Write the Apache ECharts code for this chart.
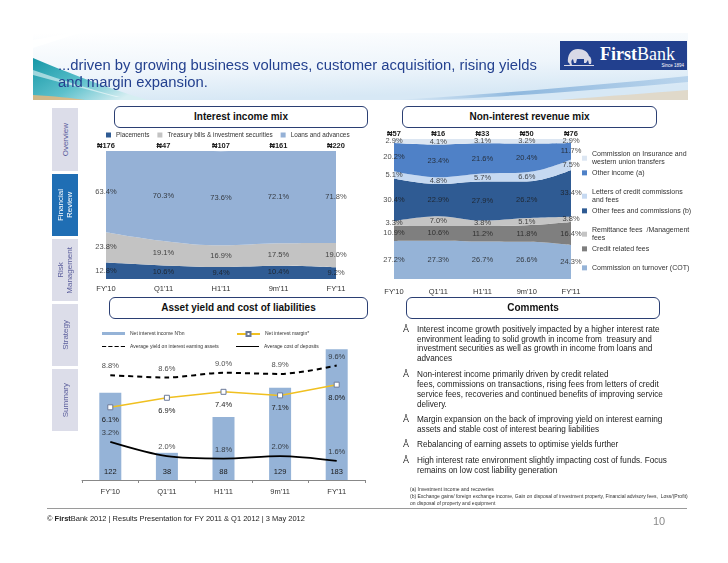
<!DOCTYPE html>
<html><head><meta charset="utf-8">
<script src="https://cdn.jsdelivr.net/npm/echarts@6/dist/echarts.min.js"></script>
<style>
html,body{margin:0;padding:0;background:#fff;}
#page{position:relative;width:728px;height:563px;overflow:hidden;font-family:'Liberation Sans',Arial,sans-serif;background:#fff;}
#chart{position:absolute;left:0;top:0;width:728px;height:563px;z-index:1;}
.ov{position:absolute;z-index:2;white-space:nowrap;}
.ln{position:absolute;z-index:2;white-space:nowrap;display:inline-block;transform-origin:0 50%;}
.tbox{position:absolute;z-index:2;border:1px solid #2b3f73;border-radius:6px;background:#fff;box-sizing:border-box;text-align:center;font-weight:bold;font-size:10px;color:#111;}
.tab{position:absolute;left:52px;width:26px;background:#dcdde9;color:#5b5e9c;font-size:8px;display:flex;align-items:center;justify-content:center;z-index:2;}
.tab span{writing-mode:vertical-rl;transform:rotate(180deg);text-align:center;line-height:9px;}
.cm{font-size:9px;color:#222;line-height:10px;}
.bul{position:absolute;z-index:2;left:403px;font-size:9px;color:#222;line-height:10px;}
.fn{font-size:4.8px;color:#333;line-height:7px;}
</style></head>
<body>
<div id="page">
<svg width="728" height="110" style="position:absolute;left:0;top:0;z-index:0">
  <defs>
    <linearGradient id="bgv" x1="0" y1="0" x2="0.3" y2="1">
      <stop offset="0" stop-color="#ffffff"/>
      <stop offset="0.6" stop-color="#eef5fb"/>
      <stop offset="1" stop-color="#d7e8f5"/>
    </linearGradient>
    <linearGradient id="teal" x1="0" y1="0" x2="1" y2="0.6">
      <stop offset="0" stop-color="#1597a6"/>
      <stop offset="0.55" stop-color="#5cc0cb"/>
      <stop offset="1" stop-color="#d6eef2"/>
    </linearGradient>
    <linearGradient id="streak" x1="0" y1="0" x2="1" y2="0">
      <stop offset="0" stop-color="#a9c9e6" stop-opacity="0"/>
      <stop offset="0.4" stop-color="#8fb8de"/>
      <stop offset="1" stop-color="#b9d4ec"/>
    </linearGradient>
  </defs>
  <rect x="33" y="33" width="655" height="67" fill="url(#bgv)"/>
  <path d="M33,40 L70,33 L80,33 L33,48 Z" fill="#ffffff" opacity="0.8"/>
  <path d="M33,58 C62,70 100,86 148,100 L33,100 Z" fill="url(#teal)"/>
  <path d="M33,70 C62,80 92,90 120,97 L116,97 C88,90 60,82 33,75 Z" fill="#ffffff" opacity="0.55"/>
  <path d="M33,95 C55,96 70,98 85,100 L33,100 Z" fill="#e6b77c" opacity="0.85"/>
  <path d="M395,100 C480,95 590,86 688,76 L688,82 C600,90 500,97 430,100 Z" fill="url(#streak)"/>
  <path d="M560,100 C610,96 650,93 688,90 L688,100 Z" fill="#e9c9a0" opacity="0.5"/>
</svg>

<div style="position:absolute;left:560px;top:41px;width:127px;height:29px;background:#22408e;z-index:2;">
  <svg width="34" height="29" style="position:absolute;left:2px;top:0">
    <path d="M6,22 C5,14 9,8 16,8 C22,8 26,11 27,15 C29,16 30,19 29,23 L27,23 L26,19 L24,22 L22,22 L22,18 L15,18 L14,22 L12,22 L11,18 C9,19 9,21 10,24 L8,24 C7,22 7,21 6,22 Z" fill="#d9d9e6"/>
    <rect x="2" y="24" width="30" height="1" fill="#d9d9e6"/>
  </svg>
  <div style="position:absolute;left:40px;top:4px;font-family:'Liberation Serif','Times New Roman',serif;font-size:18px;color:#fff;line-height:18px;white-space:nowrap;"><b>First</b>Bank</div>
  <div style="position:absolute;right:3px;top:22px;font-size:4.5px;color:#fff;white-space:nowrap;">Since 1894</div>
</div>

<span class="ln" data-w="479" style="left:58px;top:57px;font-size:14px;line-height:16px;color:#24418f;">...driven by growing business volumes, customer acquisition, rising yields</span>
<span class="ln" data-s="hdr" style="left:58px;top:74px;font-size:14px;line-height:16px;color:#24418f;">and margin expansion.</span>

<div class="tab" style="top:108px;height:63px;"><span>Overview</span></div>
<div class="tab" style="top:174px;height:62px;background:#1f6eb4;color:#fff;"><span>Financial<br>Review</span></div>
<div class="tab" style="top:239px;height:62px;"><span>Risk<br>Management</span></div>
<div class="tab" style="top:304px;height:62px;"><span>Strategy</span></div>
<div class="tab" style="top:369px;height:62px;"><span>Summary</span></div>

<div class="tbox" style="left:114px;top:106px;width:254px;height:22px;line-height:20px;">Interest income mix</div>
<div class="tbox" style="left:402px;top:106px;width:255px;height:22px;line-height:20px;">Non-interest revenue mix</div>
<div class="tbox" style="left:109px;top:297px;width:259px;height:22px;line-height:20px;">Asset yield and cost of liabilities</div>
<div class="tbox" style="left:406px;top:297px;width:254px;height:22px;line-height:20px;">Comments</div>

<div id="chart"></div>

<div class="bul" style="top:324px;">Å</div>
<span class="ln cm" data-w="243" style="left:417px;top:324px;">Interest income growth positively impacted by a higher interest rate</span>
<span class="ln cm" data-s="cm" style="left:417px;top:334px;">environment leading to solid growth in income from&nbsp; treasury and</span>
<span class="ln cm" data-s="cm" style="left:417px;top:343px;">investment securities as well as growth in income from loans and</span>
<span class="ln cm" data-s="cm" style="left:417px;top:353px;">advances</span>
<div class="bul" style="top:369px;">Å</div>
<span class="ln cm" data-s="cm" style="left:417px;top:369px;">Non-interest income primarily driven by credit related</span>
<span class="ln cm" data-s="cm" style="left:417px;top:379px;">fees, commissions on transactions, rising fees from letters of credit</span>
<span class="ln cm" data-s="cm" style="left:417px;top:389px;">service fees, recoveries and continued benefits of improving service</span>
<span class="ln cm" data-s="cm" style="left:417px;top:399px;">delivery.</span>
<div class="bul" style="top:414px;">Å</div>
<span class="ln cm" data-s="cm" style="left:417px;top:414px;">Margin expansion on the back of improving yield on interest earning</span>
<span class="ln cm" data-s="cm" style="left:417px;top:424px;">assets and stable cost of interest bearing liabilities</span>
<div class="bul" style="top:439px;">Å</div>
<span class="ln cm" data-s="cm" style="left:417px;top:439px;">Rebalancing of earning assets to optimise yields further</span>
<div class="bul" style="top:455px;">Å</div>
<span class="ln cm" data-s="cm" style="left:417px;top:455px;">High interest rate environment slightly impacting cost of funds. Focus</span>
<span class="ln cm" data-s="cm" style="left:417px;top:465px;">remains on low cost liability generation</span>

<span class="ln fn" data-s="fn" style="left:410px;top:486px;">(a) Investment income and recoveries</span>
<span class="ln fn" data-w="278" style="left:410px;top:493px;">(b) Exchange gains/ foreign exchange income, Gain on disposal of investment property, Financial advisory fees,&nbsp; Loss/(Profit)</span>
<span class="ln fn" data-s="fn" style="left:410px;top:500px;">on disposal of property and equipment</span>

<div style="position:absolute;left:47px;top:508px;width:640px;height:1px;background:#9a9a9a;z-index:2;"></div>
<span class="ln" data-w="258" style="left:47px;top:514px;font-size:7.5px;line-height:9px;color:#222;">© <b>First</b>Bank 2012 | Results Presentation for FY 2011 &amp; Q1 2012 | 3 May 2012</span>
<span class="ov" style="left:653px;top:514px;font-size:11px;line-height:14px;color:#8a8a8a;">10</span>
</div>

<script>
// ---------- data ----------
const cats1 = ["FY'10", "Q1'11", "H1'11", "9m'11", "FY'11"];
const totals1 = ["₦176", "₦47", "₦107", "₦161", "₦220"];
const placements = [12.8, 10.6, 9.4, 10.4, 9.2];
const treasury = [23.8, 19.1, 16.9, 17.5, 19.0];
const loans = [63.4, 70.3, 73.6, 72.1, 71.8];

const cats2 = ["FY'10", "Q1'11", "H1'11", "9m'10", "FY'11"];
const totals2 = ["₦57", "₦16", "₦33", "₦50", "₦76"];
const cot = [27.2, 27.3, 26.7, 26.6, 24.3];
const creditFees = [10.9, 10.6, 11.2, 11.8, 16.4];
const remittance = [3.3, 7.0, 3.8, 5.1, 3.8];
const otherFees = [30.4, 22.9, 27.9, 26.2, 33.4];
const lettersCredit = [5.1, 4.8, 5.7, 6.6, 7.5];
const otherIncome = [20.2, 23.4, 21.6, 20.4, 11.7];
const insurance = [2.9, 4.1, 3.1, 3.2, 2.9];

const cats3 = ["FY'10", "Q1'11", "H1'11", "9m'11", "FY'11"];
const netInterestIncome = [122, 38, 88, 129, 183];
const netInterestMargin = [6.1, 6.9, 7.4, 7.1, 8.0];
const avgYield = [8.8, 8.6, 9.0, 8.9, 9.6];
const avgCost = [3.2, 2.0, 1.8, 2.0, 1.6];

// ---------- names ----------
const n1 = ['Placements', 'Treasury bills & investment securities', 'Loans and advances'];
const n2 = ['Commission on turnover (COT)', 'Credit related fees', 'Remittance fees  /Management fees',
  'Other fees and commissions (b)', 'Letters of credit commissions and fees', 'Other income (a)',
  'Commission on Insurance and western union transfers'];
const n3 = ["Net interest income N'bn", 'Net interest margin*', 'Average yield on interest earning assets', 'Average cost of deposits'];

const FONT = "'Liberation Sans', Arial, sans-serif";
const c1 = ['#2f5b93', '#c3c3c3', '#95b1d6'];
const c2 = ['#95b3d7', '#7f7f7f', '#c4c4c4', '#2f5b93', '#c6d9f1', '#4f81c7', '#dce6f2'];

function midLabels(list) {
  const out = [];
  for (let i = 0; i < list[0].length; i++) {
    let cum = 0;
    list.forEach(a => { out.push([i, cum + a[i] / 2, a[i]]); cum += a[i]; });
  }
  return out;
}
const pct = p => p.value[2].toFixed(1) + '%';

const series = [];
const d1 = [placements, treasury, loans];
d1.forEach((arr, k) => series.push({
  name: n1[k], type: 'line', xAxisIndex: 0, yAxisIndex: 0, stack: 'a1', data: arr,
  smooth: 0.4, symbol: 'none', lineStyle: { width: 0 }, itemStyle: { color: c1[k] },
  areaStyle: { color: c1[k], opacity: 1 }, silent: true
}));
series.push({
  name: 'lbl1', type: 'scatter', xAxisIndex: 0, yAxisIndex: 0, symbolSize: 0, silent: true, z: 10,
  data: midLabels(d1),
  label: { show: true, position: 'inside', formatter: pct, fontSize: 7.5, color: '#1a1a1a', fontFamily: FONT }
});

const d2 = [cot, creditFees, remittance, otherFees, lettersCredit, otherIncome, insurance];
d2.forEach((arr, k) => series.push({
  name: n2[k], type: 'line', xAxisIndex: 2, yAxisIndex: 1, stack: 'a2', data: arr,
  smooth: 0.4, symbol: 'none', lineStyle: { width: 0 }, itemStyle: { color: c2[k] },
  areaStyle: { color: c2[k], opacity: 1 }, silent: true
}));
series.push({
  name: 'lbl2', type: 'scatter', xAxisIndex: 2, yAxisIndex: 1, symbolSize: 0, silent: true, z: 10,
  data: midLabels(d2),
  label: { show: true, position: 'inside', formatter: pct, fontSize: 7.5, color: '#1a1a1a', fontFamily: FONT }
});

series.push({
  name: n3[0], type: 'bar', xAxisIndex: 4, yAxisIndex: 2, data: netInterestIncome, barWidth: 22,
  itemStyle: { color: '#95b3d7' },
  label: { show: true, position: 'insideBottom', distance: 4, fontSize: 7.5, color: '#1a1a1a', fontFamily: FONT }
});
series.push({
  name: n3[1], type: 'line', xAxisIndex: 4, yAxisIndex: 3, data: netInterestMargin,
  symbol: 'rect', symbolSize: 5, lineStyle: { color: '#f0c020', width: 1.5 },
  itemStyle: { color: '#ffffff', borderColor: '#6b7a99', borderWidth: 1 }, z: 5,
  label: { show: true, position: 'bottom', distance: 6, fontSize: 7.5, color: '#1a1a1a', fontFamily: FONT,
    formatter: p => p.value.toFixed(1) + '%' }
});
series.push({
  name: n3[2], type: 'line', xAxisIndex: 4, yAxisIndex: 3, data: avgYield, smooth: 0.3,
  symbol: 'none', lineStyle: { color: '#000', width: 2, type: [5, 4] }, itemStyle: { color: '#000' }, z: 4
});
series.push({
  name: n3[3], type: 'line', xAxisIndex: 4, yAxisIndex: 3, data: avgCost, smooth: 0.3,
  symbol: 'none', lineStyle: { color: '#000', width: 1.8 }, itemStyle: { color: '#000' }, z: 4
});
[[avgYield, 'lblY'], [avgCost, 'lblC']].forEach(([arr, nm]) => series.push({
  name: nm, type: 'scatter', xAxisIndex: 4, yAxisIndex: 3, symbolSize: 0, silent: true, z: 10,
  data: arr.map((v, i) => [i, v, v]),
  label: { show: true, position: 'top', distance: 5, formatter: pct, fontSize: 7.5, color: '#1a1a1a', fontFamily: FONT }
}));

const wrap2 = {
  'Commission on Insurance and western union transfers': 'Commission on Insurance and\nwestern union transfers',
  'Letters of credit commissions and fees': 'Letters of credit commissions\nand fees',
  'Remittance fees  /Management fees': 'Remittance fees  /Management\nfees'
};
const leg2Order = [6, 5, 4, 3, 2, 1, 0];
const leg2Tops = [149.5, 168.5, 187.5, 206.5, 225.5, 244.5, 263.5];
const legends = [{
  left: 106, top: 132, padding: 0, itemGap: 8, icon: 'rect', itemWidth: 5, itemHeight: 5,
  selectedMode: false, data: n1, textStyle: { fontSize: 6.4, color: '#333', fontFamily: FONT }
}];
leg2Order.forEach((k, j) => legends.push({
  left: 582, top: leg2Tops[j], padding: 0, icon: 'rect', itemWidth: 5, itemHeight: 5, selectedMode: false,
  data: [n2[k]], formatter: nm => wrap2[nm] || nm,
  textStyle: { fontSize: 7, lineHeight: 8.7, color: '#333', fontFamily: FONT }
}));
const dashIcon = 'path://M0,0h4v1h-4zM6,0h4v1h-4zM12,0h4v1h-4zM18,0h4v1h-4z';
const solidIcon = 'path://M0,0h22v1h-22z';
const leg3 = [
  { left: 102, top: 331, k: 0, icon: 'rect', h: 3 },
  { left: 236, top: 331, k: 1, icon: undefined, h: 5 },
  { left: 102, top: 344, k: 2, icon: dashIcon, h: 2 },
  { left: 236, top: 344, k: 3, icon: solidIcon, h: 1.6 }
];
leg3.forEach(o => legends.push({
  left: o.left, top: o.top, padding: 0, itemWidth: 23, itemHeight: o.h, selectedMode: false,
  icon: o.icon, data: [n3[o.k]], textStyle: { fontSize: 5, color: '#333', fontFamily: FONT }
}));

const catAxis = (grid, data, margin) => ({
  type: 'category', gridIndex: grid, data: data, boundaryGap: false,
  axisLine: { show: false }, axisTick: { show: false },
  axisLabel: { fontSize: 7.5, color: '#333', margin: margin, fontFamily: FONT }
});
const topAxis = (grid, data) => ({
  type: 'category', gridIndex: grid, data: data, boundaryGap: false, position: 'top',
  axisLine: { show: false }, axisTick: { show: false },
  axisLabel: { fontSize: 7.5, fontWeight: 'bold', color: '#222', margin: 1, fontFamily: FONT }
});
const hiddenY = (grid, max) => ({
  type: 'value', gridIndex: grid, min: 0, max: max, show: false, splitLine: { show: false }
});

const option = {
  animation: false,
  backgroundColor: 'transparent',
  textStyle: { fontFamily: FONT },
  grid: [
    { left: 106, top: 151, width: 230, height: 128 },
    { left: 394, top: 139, width: 177, height: 140 },
    { left: 82, top: 337, width: 283, height: 143 }
  ],
  xAxis: [
    catAxis(0, cats1, 6),
    topAxis(0, totals1),
    catAxis(1, cats2, 9),
    topAxis(1, totals2),
    {
      type: 'category', gridIndex: 2, data: cats3, boundaryGap: true,
      axisLine: { show: true, lineStyle: { color: '#888' } },
      axisTick: { show: true, length: 3, lineStyle: { color: '#888' } },
      axisLabel: { fontSize: 7.5, color: '#333', margin: 8, fontFamily: FONT }
    }
  ],
  yAxis: [hiddenY(0, 100), hiddenY(1, 100), hiddenY(2, 200), hiddenY(2, 12)],
  legend: legends,
  series: series
};

const chart = echarts.init(document.getElementById('chart'), null, { renderer: 'canvas' });
chart.setOption(option);

// ---------- fit text widths ----------
function fitAll() {
  const scales = {};
  document.querySelectorAll('.ln[data-w]').forEach(el => {
    const s = parseFloat(el.dataset.w) / el.offsetWidth;
    el.style.transform = 'scaleX(' + s + ')';
    el.dataset.sc = s;
  });
  const first = sel => document.querySelector(sel);
  scales.hdr = parseFloat(first('.ln[data-w="479"]').dataset.sc);
  scales.cm = parseFloat(first('.ln[data-w="243"]').dataset.sc);
  scales.fn = parseFloat(first('.ln[data-w="278"]').dataset.sc);
  document.querySelectorAll('.ln[data-s]').forEach(el => {
    el.style.transform = 'scaleX(' + scales[el.dataset.s] + ')';
  });
}
fitAll();
</script>
</body></html>
